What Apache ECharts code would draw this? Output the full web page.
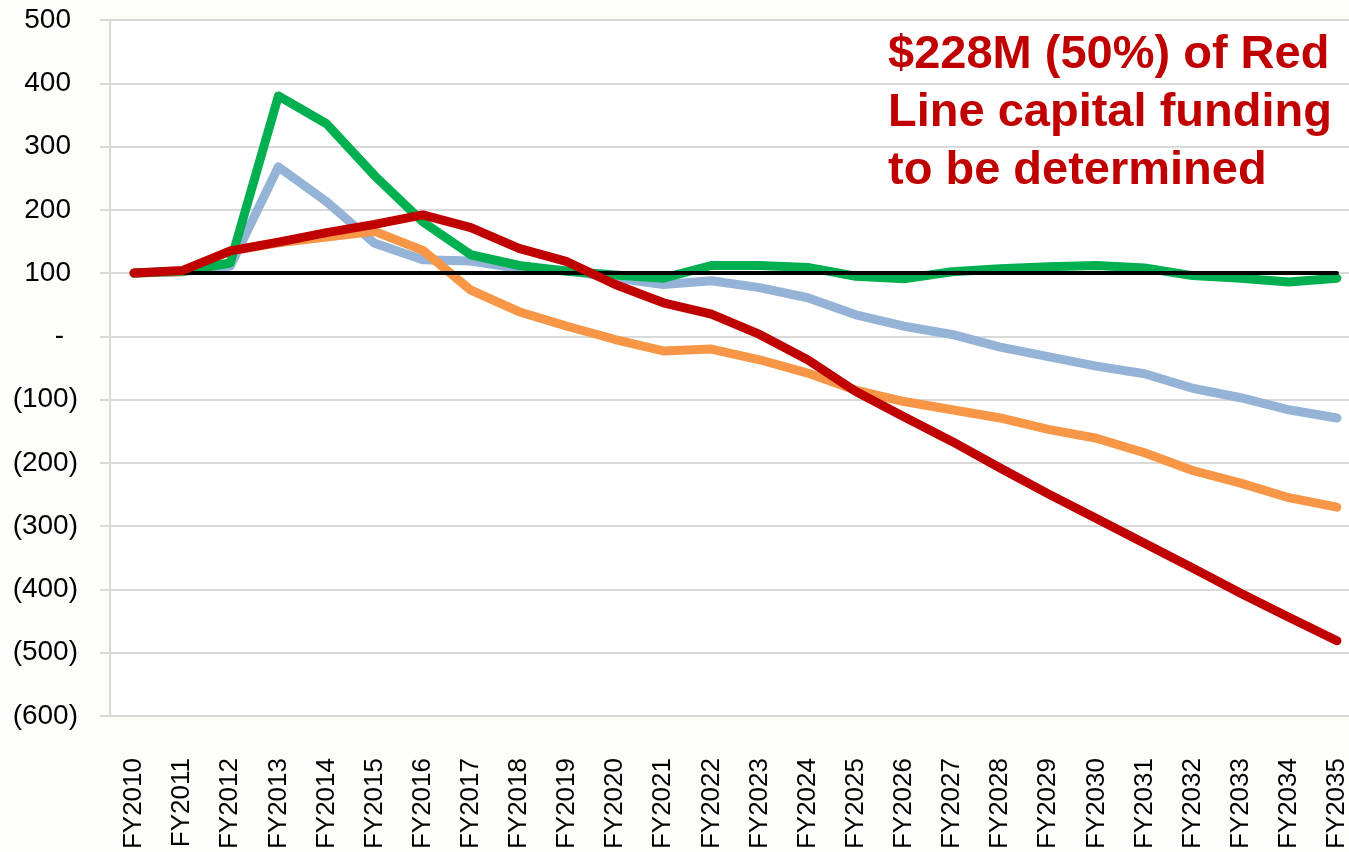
<!DOCTYPE html>
<html>
<head>
<meta charset="utf-8">
<title>Red Line capital funding</title>
<script src="https://cdn.jsdelivr.net/npm/echarts/dist/echarts.min.js"></script>
<style>
    html, body { margin: 0; padding: 0; background: #fdfdf9; }
    #main { width: 1349px; height: 852px; }
</style>
</head>
<body>
<div id="main"></div>
<script>
// 年度
var years = ['FY2010', 'FY2011', 'FY2012', 'FY2013', 'FY2014', 'FY2015', 'FY2016', 'FY2017', 'FY2018',
    'FY2019', 'FY2020', 'FY2021', 'FY2022', 'FY2023', 'FY2024', 'FY2025', 'FY2026', 'FY2027',
    'FY2028', 'FY2029', 'FY2030', 'FY2031', 'FY2032', 'FY2033', 'FY2034', 'FY2035'];

// 各条线的数据
var greenData = [100, 103, 116, 380, 336, 254, 181, 129, 112, 103, 97, 92, 112, 112, 109, 95, 91, 102, 107, 110, 112, 108, 96, 92, 86, 92];
var blueData = [100, 102, 111, 268, 213, 147, 121, 119, 107, 104, 92, 82, 88, 77, 61, 34, 16, 3, -17, -32, -47, -59, -82, -97, -116, -129];
var orangeData = [100, 102, 135, 148, 157, 166, 136, 73, 39, 16, -5, -23, -20, -37, -58, -85, -103, -116, -129, -147, -161, -184, -212, -232, -255, -270];
var redData = [100, 104, 135, 149, 164, 177, 192, 172, 139, 118, 82, 53, 35, 3, -37, -87, -127, -166, -208, -249, -288, -327, -366, -406, -444, -481];
// 100 基准线
var baseData = [100, 100, 100, 100, 100, 100, 100, 100, 100, 100, 100, 100, 100, 100, 100, 100, 100, 100, 100, 100, 100, 100, 100, 100, 100, 100];

// 注释文字
var noteText = '$228M (50%) of Red\nLine capital funding\nto be determined';

var myChart = echarts.init(document.getElementById('main'));

function lineSeries(name, data, color, width) {
    return {
        name: name,
        type: 'line',
        data: data,
        symbol: 'none',
        lineStyle: {
            width: width,
            color: color,
            cap: 'round',
            join: 'round'
        },
        itemStyle: { color: color }
    };
}

var option = {
    animation: false,
    backgroundColor: '#fdfdf9',
    textStyle: {
        fontFamily: 'Liberation Sans'
    },
    title: {
        text: noteText,
        left: 883,
        top: 21,
        textStyle: {
            fontFamily: 'Liberation Sans',
            fontSize: 47,
            fontWeight: 'bold',
            color: '#c00000',
            lineHeight: 58
        }
    },
    grid: {
        left: 110,
        right: -12,
        top: 20,
        bottom: 136,
        outerBoundsMode: 'none',
        show: true,
        backgroundColor: '#ffffff',
        borderWidth: 0
    },
    xAxis: {
        type: 'category',
        boundaryGap: true,
        data: years,
        axisLine: {
            lineStyle: { color: '#d9d9d9', width: 2 }
        },
        axisTick: { show: false },
        axisLabel: {
            interval: 0,
            rotate: 90,
            margin: 42,
            fontSize: 26,
            color: '#000'
        }
    },
    yAxis: {
        type: 'value',
        min: -600,
        max: 500,
        interval: 100,
        axisLine: {
            show: true,
            lineStyle: { color: '#d9d9d9', width: 2 }
        },
        axisTick: {
            show: true,
            length: 10,
            lineStyle: { color: '#d9d9d9', width: 2 }
        },
        splitLine: {
            lineStyle: { color: '#d9d9d9', width: 2 }
        },
        axisLabel: {
            margin: 32,
            fontSize: 28,
            color: '#000',
            // 会计格式: 0 显示为 "-"，负数加括号，正数右边留一个括号的空位
            formatter: function (v) {
                if (v === 0) return '{z|-}';
                if (v < 0) return '(' + (-v) + ')';
                return '{p|' + v + '}';
            },
            rich: {
                p: { fontSize: 28, color: '#000', padding: [0, 7, 0, 0] },
                z: { fontSize: 28, color: '#000', padding: [0, 14, 0, 0] }
            }
        }
    },
    series: [
        lineSeries('blue', blueData, '#95b3d7', 9),
        lineSeries('orange', orangeData, '#f79646', 9),
        lineSeries('green', greenData, '#00b050', 9),
        lineSeries('base', baseData, '#000000', 4),
        lineSeries('red', redData, '#c00000', 9)
    ]
};

myChart.setOption(option);

window.addEventListener('resize', function () {
    myChart.resize();
});
</script>
</body>
</html>
